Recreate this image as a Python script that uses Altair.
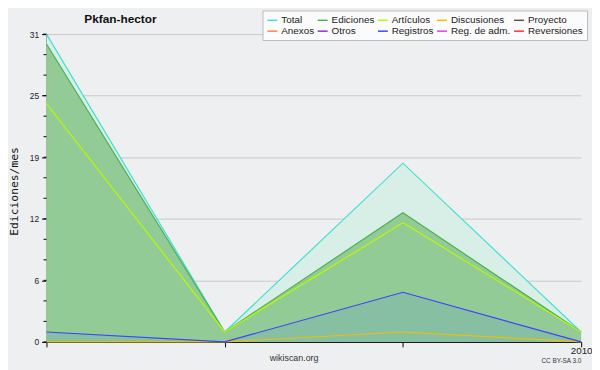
import altair as alt
import pandas as pd

months = ["2009-10", "2009-11", "2009-12", "2010-01"]
total = [31, 1, 18, 1]
ediciones = [30, 1, 13, 1]
articulos = [24, 1, 12, 1]
discusiones = [0, 0, 1, 0]
registros = [1, 0, 5, 0]

legend_names = ["Total", "Ediciones", "Artículos", "Discusiones", "Proyecto",
                "Anexos", "Otros", "Registros", "Reg. de adm.", "Reversiones"]
legend_colors = ["#40e0d0", "#4caf50", "#b8f800", "#f0c000", "#555555",
                 "#ff8040", "#8a2be2", "#4040ff", "#e040e0", "#ff3030"]

y_ticks = [0, 6.2, 12.4, 18.6, 24.8, 31]
y_minor = [round(31 / 15 * i, 4) for i in range(16)]

series_data = {
    "Total": total,
    "Ediciones": ediciones,
    "Artículos": articulos,
    "Discusiones": discusiones,
    "Registros": registros,
}
rows = []
for name, vals in series_data.items():
    for i, (m, v) in enumerate(zip(months, vals)):
        rows.append({"month": m, "idx": i, "series": name, "value": v})
df = pd.DataFrame(rows)

W, H = 542, 312
FONT = "Liberation Sans"

x_enc = alt.X("month:O", scale=alt.Scale(domain=months, padding=0),
              axis=alt.Axis(title=None, labelAngle=0, tickSize=5, tickColor="#000",
                            domainColor="#000", labelFont=FONT, labelFontSize=10,
                            labelColor="#222", labelPadding=-1,
                            labelExpr="datum.value == '2010-01' ? '2010' : ''",
                            grid=False))
y_scale = alt.Scale(domain=[0, 31], nice=False, zero=True)
y_axis = alt.Axis(values=y_ticks, format=".0f", tickSize=5, tickColor="#000",
                  domainColor="#000", labelFont=FONT, labelFontSize=8.5,
                  labelColor="#222", labelPadding=3,
                  grid=True, gridColor="#c8c8c8",
                  title="Ediciones/mes", titleFont="DejaVu Sans Mono",
                  titleFontSize=11.5, titleFontWeight="normal",
                  titleColor="#111", titleX=-32, titleY=159,
                  titleBaseline="middle", titleAngle=-90)
y_enc = alt.Y("value:Q", scale=y_scale, axis=y_axis)

base = alt.Chart(df)

area_total = base.transform_filter(alt.datum.series == "Total").mark_area(
    color="#d8efe8", opacity=1).encode(x=x_enc, y=y_enc)
area_ed = base.transform_filter(alt.datum.series == "Ediciones").mark_area(
    color="#93cb97", opacity=1).encode(x=x_enc, y=y_enc)
area_reg = base.transform_filter(alt.datum.series == "Registros").mark_area(
    color="#86bfa2", opacity=1).encode(x=x_enc, y=y_enc)

line_colors = alt.Color("series:N",
                        scale=alt.Scale(domain=legend_names, range=legend_colors),
                        legend=alt.Legend(title=None, orient="none", legendX=219, legendY=-24,
                                          direction="horizontal",
                                          columns=5, symbolType="stroke", symbolSize=100,
                                          symbolStrokeWidth=1.5, labelFont=FONT,
                                          labelFontSize=10, labelColor="#222",
                                          labelOffset=3, columnPadding=0, rowPadding=0,
                                          padding=4, fillColor="#fbfbfb",
                                          strokeColor="#bbbbbb", values=legend_names))
lines = base.mark_line(strokeWidth=1.2).encode(
    x=x_enc, y=y_enc, color=line_colors,
    order=alt.Order("idx:Q"))

minor = alt.Chart(pd.DataFrame({"value": y_minor})).mark_rule(color="#000").encode(
    y=y_enc, x=alt.value(-3), x2=alt.value(0))

def label(text, x, y, size, weight="normal", color="#222", font=FONT, align="center"):
    return alt.Chart(pd.DataFrame({"t": [text]})).mark_text(
        font=font, fontSize=size, fontWeight=weight, color=color, align=align,
        baseline="middle").encode(text="t:N", x=alt.value(x), y=alt.value(y))

title = label("Pkfan-hector", 75, -15, 12, weight="bold", color="#111")
foot = label("wikiscan.org", 251, 328.5, 9, color="#333")
cc = label("CC BY-SA 3.0", 522, 331, 6.5, color="#333")

chart = alt.layer(area_total, area_ed, area_reg, lines, minor, title, foot, cc).properties(
    width=W, height=H,
    autosize=alt.AutoSizeParams(type="none"),
    padding={"left": 39, "top": 24, "right": 11, "bottom": 26},
    background="#eeeff1",
).configure_view(stroke=None).configure_axis(labelFlush=False)

chart.save("out.html", embed_options={"renderer": "svg", "actions": False})
